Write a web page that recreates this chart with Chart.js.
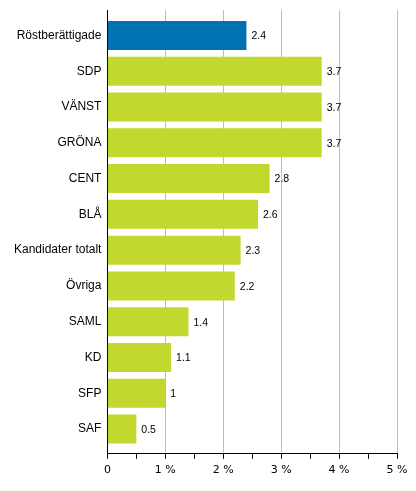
<!DOCTYPE html>
<html>
<head>
<meta charset="utf-8">
<script src="https://cdn.jsdelivr.net/npm/chart.js@4"></script>
<style>
   html, body { margin: 0; padding: 0; background: #fff; }
   #wrap { width: 416px; height: 491px; }
</style>
</head>
<body>
<div id="wrap"><canvas id="chart"></canvas></div>
<script>
const categories = [
   'Röstberättigade', 'SDP', 'VÄNST', 'GRÖNA', 'CENT', 'BLÅ',
   'Kandidater totalt', 'Övriga', 'SAML', 'KD', 'SFP', 'SAF'
];
const values = [2.4, 3.7, 3.7, 3.7, 2.8, 2.6, 2.3, 2.2, 1.4, 1.1, 1, 0.5];
const xTicks = [0, 1, 2, 3, 4, 5];

const blue = 'rgb(0, 114, 178)';
const green = 'rgb(194, 216, 46)';

// valeur a droite de chaque barre
const valueLabels = {
   id: 'valueLabels',
   afterDatasetsDraw(chart) {
      const ctx = chart.ctx;
      const meta = chart.getDatasetMeta(0);
      ctx.save();
      ctx.font = '10.5px "Liberation Sans", Arial, sans-serif';
      ctx.fillStyle = '#000';
      ctx.textBaseline = 'middle';
      ctx.textAlign = 'left';
      meta.data.forEach((bar, i) => {
         ctx.fillText(String(values[i]), bar.x + 5, bar.y + 1);
      });
      ctx.restore();
   }
};

new Chart(document.getElementById('chart'), {
   type: 'bar',
   data: {
      datasets: [{
         data: values.map((v, i) => ({ x: v, y: i })),
         backgroundColor: values.map((v, i) => i === 0 ? blue : green),
         borderWidth: 0,
         barPercentage: 0.81,
         categoryPercentage: 1
      }]
   },
   options: {
      indexAxis: 'y',
      responsive: true,
      maintainAspectRatio: false,
      animation: false,
      events: [],
      layout: {
         padding: { left: 8, right: 19, top: 10, bottom: 9 }
      },
      plugins: {
         legend: { display: false },
         tooltip: { enabled: false }
      },
      scales: {
         x: {
            type: 'linear',
            min: 0,
            max: 5,
            ticks: {
               stepSize: 0.5,
               autoSkip: false,
               maxRotation: 0,
               padding: 5,
               color: '#000',
               font: { family: '"DejaVu Sans", Verdana, sans-serif', size: 11 },
               callback: function (v) {
                  if (!xTicks.includes(v)) return '';
                  return v === 0 ? '0' : v + ' %';
               }
            },
            grid: {
               color: (c) => (c.tick && xTicks.includes(c.tick.value) && c.tick.value > 0) ? '#bdbdbd' : 'transparent',
               tickColor: '#000',
               tickLength: 5,
               lineWidth: 1
            },
            border: { color: '#000', width: 1 }
         },
         y: {
            type: 'linear',
            reverse: true,
            offset: false,
            bounds: 'data',
            min: -0.71,
            max: 11.69,
            afterBuildTicks: function (scale) {
               scale.ticks = categories.map((c, i) => ({ value: i }));
            },
            ticks: {
               stepSize: 1,
               autoSkip: false,
               padding: 6,
               color: '#000',
               font: { family: '"Liberation Sans", Arial, sans-serif', size: 12, lineHeight: 0.3 },
               callback: function (v) {
                  return categories[v] !== undefined ? categories[v] : '';
               }
            },
            grid: { display: false, drawTicks: false, offset: false },
            border: { color: '#000', width: 1 }
         }
      }
   },
   plugins: [valueLabels]
});
</script>
</body>
</html>
